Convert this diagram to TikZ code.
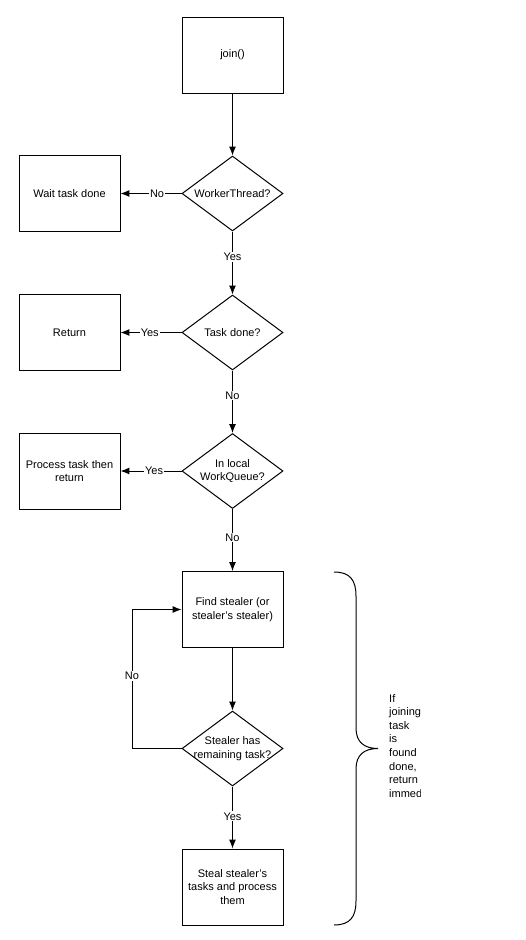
\documentclass[tikz,border=0pt]{standalone}
\usepackage{fontspec}
\setmainfont{Liberation Sans}
\usetikzlibrary{shapes.geometric,arrows.meta}
\begin{document}
\begin{tikzpicture}[x=1pt,y=-1pt,
  every node/.style={font=\fontsize{11}{13.6}\selectfont},
  box/.style={draw,line width=0.9pt,minimum width=101pt,minimum height=76pt,inner sep=0pt,align=center},
  dec/.style={draw,diamond,line width=1pt,minimum width=101pt,minimum height=75pt,inner sep=0pt},
  txt/.style={align=center,inner sep=0pt},
  arr/.style={line width=1pt,-{Latex[length=9pt,width=7pt]}},
  lbl/.style={fill=white,inner sep=1pt},
  plain/.style={line width=1pt}]
\useasboundingbox[fill=white] (0,0) rectangle (526,940);

% main column
\node[box] (join) at (232.5,55) {join()};
\node[dec] (d1) at (232.5,193.5) {};
\node[txt] (d1t) at (d1.center) {WorkerThread?};
\node[dec] (d2) at (232.5,332.5) {};
\node[txt] (d2t) at (d2.center) {Task done?};
\node[dec] (d3) at (232.5,471) {};
\node[txt] (d3t) at (d3.center) {In local\\WorkQueue?};
\node[box] (find) at (232.5,609.5) {Find stealer (or\\stealer's stealer)};
\node[dec] (d4) at (232.5,748.5) {};
\node[txt] (d4t) at (d4.center) {Stealer has\\remaining task?};
\node[box] (steal) at (232.5,887) {Steal stealer's\\tasks and process\\them};

% left column
\node[box] (wait) at (69.5,193.5) {Wait task done};
\node[box] (ret) at (69.5,332.5) {Return};
\node[box] (proc) at (69.5,471) {Process task then\\return};

% connectors
\draw[arr] (join) -- (d1);
\draw[arr] (d1) -- node[lbl,pos=0.4]{No} (wait);
\draw[arr] (d1) -- node[lbl,pos=0.4]{Yes} (d2);
\draw[arr] (d2) -- node[lbl,pos=0.52]{Yes} (ret);
\draw[arr] (d2) -- node[lbl,pos=0.4]{No} (d3);
\draw[arr] (d3) -- node[lbl,pos=0.45]{Yes} (proc);
\draw[arr] (d3) -- node[lbl,pos=0.46]{No} (find);
\draw[arr] (find) -- (d4);
\coordinate (loop) at (132,748.5);
\draw[arr] (d4.west) -- (loop) |- node[lbl,pos=0.26]{No} (find.west);
\draw[arr] (d4) -- node[lbl,pos=0.48]{Yes} (steal);

% brace
\draw[plain] (334,572) .. controls (350,572) and (356,580) .. (356,596)
  -- (356,728) .. controls (356,742) and (364,748.5) .. (378,748.5)
  .. controls (364,748.5) and (356,755) .. (356,769)
  -- (356,901) .. controls (356,917) and (350,925) .. (334,925);

% note (clipped, as in the reference)
\begin{scope}
\clip (382,680) rectangle (420.5,810);
\node[anchor=north west,align=left,inner sep=0pt] (note) at (389,694)
  {If\\joining\\task\\is\\found\\done,\\return\\immediately};
\end{scope}
\end{tikzpicture}
\end{document}
